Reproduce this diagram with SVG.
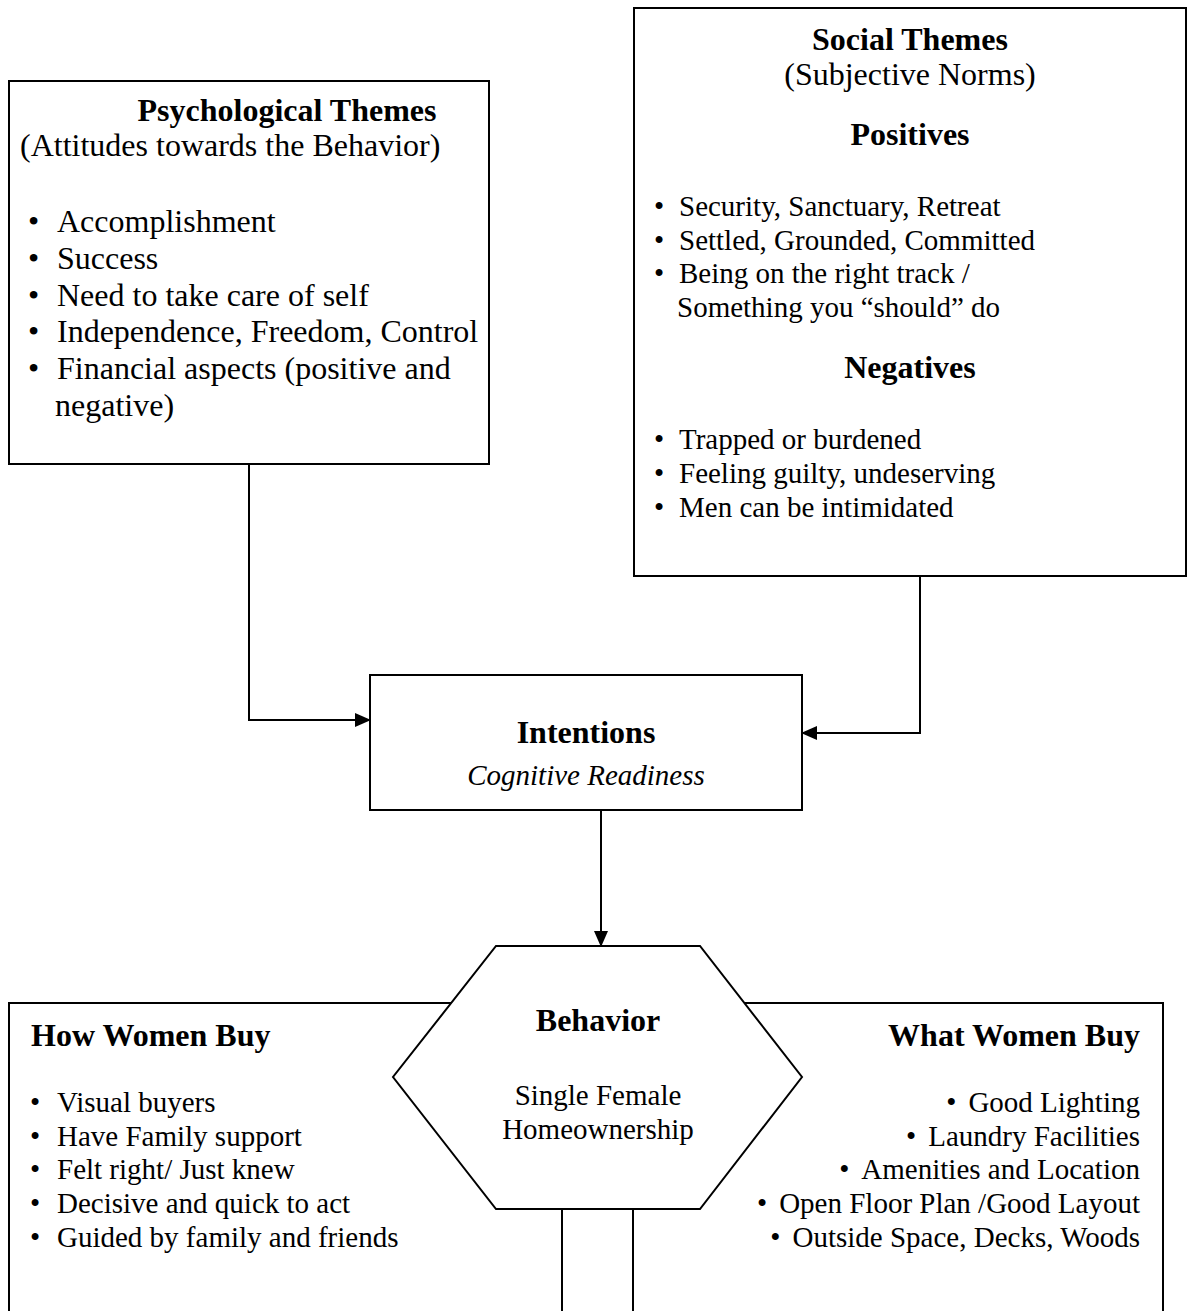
<svg xmlns="http://www.w3.org/2000/svg" width="1188" height="1311" viewBox="0 0 1188 1311">
<style>
text{font-family:"Liberation Serif","Times New Roman",serif;fill:#000}
.box{fill:#fff;stroke:#000;stroke-width:2}
.hd{font-weight:bold;font-size:32px}
.p{font-size:32px}
.s{font-size:29px}
.c{text-anchor:middle}
.e{text-anchor:end}
.conn{fill:none;stroke:#000;stroke-width:2}
</style>
<defs>
<marker id="arr" markerUnits="userSpaceOnUse" markerWidth="16" markerHeight="14" refX="15" refY="7" orient="auto">
<path d="M0,0 L16,7 L0,14 Z" fill="#000"/>
</marker>
</defs>
<g id="psych">
<rect class="box" x="9" y="81" width="480" height="383"/>
<text class="hd c" x="287" y="121">Psychological Themes</text>
<text class="p" x="20" y="156">(Attitudes towards the Behavior)</text>
<text class="p" x="28" y="232">•</text><text class="p" x="57" y="232">Accomplishment</text>
<text class="p" x="28" y="269">•</text><text class="p" x="57" y="269">Success</text>
<text class="p" x="28" y="306">•</text><text class="p" x="57" y="306">Need to take care of self</text>
<text class="p" x="28" y="342">•</text><text class="p" x="57" y="342">Independence, Freedom, Control</text>
<text class="p" x="28" y="379">•</text><text class="p" x="57" y="379">Financial aspects (positive and</text>
<text class="p" x="55" y="416">negative)</text>
</g>
<g id="social">
<rect class="box" x="634" y="8" width="552" height="568"/>
<text class="hd c" x="910" y="50">Social Themes</text>
<text class="p c" x="910" y="85">(Subjective Norms)</text>
<text class="hd c" x="910" y="145">Positives</text>
<text class="s" x="654" y="216">•</text><text class="s" x="679" y="216">Security, Sanctuary, Retreat</text>
<text class="s" x="654" y="250">•</text><text class="s" x="679" y="250">Settled, Grounded, Committed</text>
<text class="s" x="654" y="283">•</text><text class="s" x="679" y="283">Being on the right track /</text>
<text class="s" x="677" y="317">Something you “should” do</text>
<text class="hd c" x="910" y="378">Negatives</text>
<text class="s" x="654" y="449">•</text><text class="s" x="679" y="449">Trapped or burdened</text>
<text class="s" x="654" y="483">•</text><text class="s" x="679" y="483">Feeling guilty, undeserving</text>
<text class="s" x="654" y="517">•</text><text class="s" x="679" y="517">Men can be intimidated</text>
</g>
<g id="intentions">
<rect class="box" x="370" y="675" width="432" height="135"/>
<text class="hd c" x="586" y="743">Intentions</text>
<text class="s c" x="586" y="785" font-style="italic">Cognitive Readiness</text>
</g>
<g id="how">
<rect class="box" x="9" y="1003" width="553" height="400"/>
<text class="hd" x="31" y="1046">How Women Buy</text>
<text class="s" x="30" y="1112">•</text><text class="s" x="57" y="1112">Visual buyers</text>
<text class="s" x="30" y="1146">•</text><text class="s" x="57" y="1146">Have Family support</text>
<text class="s" x="30" y="1179">•</text><text class="s" x="57" y="1179">Felt right/ Just knew</text>
<text class="s" x="30" y="1213">•</text><text class="s" x="57" y="1213">Decisive and quick to act</text>
<text class="s" x="30" y="1247">•</text><text class="s" x="57" y="1247">Guided by family and friends</text>
</g>
<g id="what">
<rect class="box" x="633" y="1003" width="530" height="400"/>
<text class="hd e" x="1140" y="1046">What Women Buy</text>
<text class="s e" x="1140" y="1112">•<tspan dx="12">Good Lighting</tspan></text>
<text class="s e" x="1140" y="1146">•<tspan dx="12">Laundry Facilities</tspan></text>
<text class="s e" x="1140" y="1179">•<tspan dx="12">Amenities and Location</tspan></text>
<text class="s e" x="1140" y="1213">•<tspan dx="12">Open Floor Plan /Good Layout</tspan></text>
<text class="s e" x="1140" y="1247">•<tspan dx="12">Outside Space, Decks, Woods</tspan></text>
</g>
<g id="behavior">
<polygon class="box" points="496,946 700,946 802,1077 700,1209 496,1209 393,1077"/>
<text class="hd c" x="598" y="1031" font-size="37">Behavior</text>
<text class="s c" x="598" y="1105">Single Female</text>
<text class="s c" x="598" y="1139">Homeownership</text>
</g>
<g id="connectors">
<path class="conn" d="M249,464 V720 H370" marker-end="url(#arr)"/>
<path class="conn" d="M920,576 V733 H802" marker-end="url(#arr)"/>
<path class="conn" d="M601,810 V946" marker-end="url(#arr)"/>
</g>
</svg>
